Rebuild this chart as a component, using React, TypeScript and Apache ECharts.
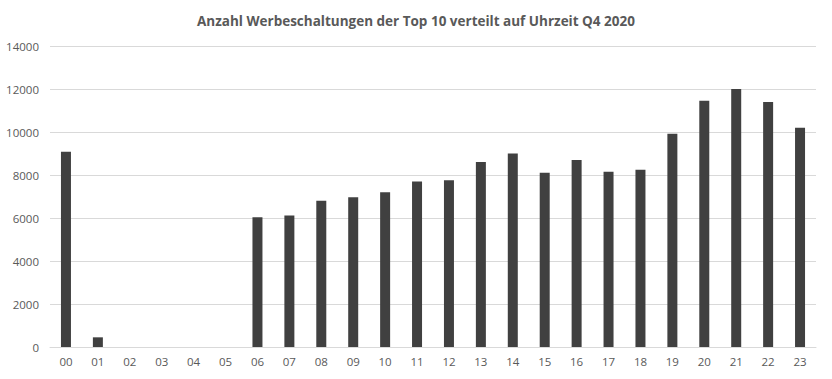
import React, { useEffect, useRef } from "react";
import * as echarts from "echarts";

const hours = ["00","01","02","03","04","05","06","07","08","09","10","11","12","13","14","15","16","17","18","19","20","21","22","23"];
const counts = [9080, 450, 0, 0, 0, 0, 6040, 6120, 6800, 6960, 7200, 7700, 7760, 8600, 9000, 8100, 8700, 8150, 8250, 9920, 11450, 12000, 11400, 10200];
const titleText = "Anzahl Werbeschaltungen der Top 10 verteilt auf Uhrzeit Q4 2020";

export default function App() {
  const ref = useRef<HTMLDivElement>(null);
  useEffect(() => {
    const chart = echarts.init(ref.current!, null, { renderer: "svg" });
    chart.setOption({
      animation: false,
      title: {
        text: titleText,
        left: "center",
        top: 9,
        textStyle: { fontFamily: "Open Sans", fontSize: 13.5, fontWeight: "bold", color: "#595959" },
      },
      grid: { left: 50, right: 16, top: 46, bottom: 32 },
      xAxis: {
        type: "category",
        data: hours,
        axisLine: { lineStyle: { color: "#d9d9d9" } },
        axisTick: { show: false },
        axisLabel: { color: "#595959", fontFamily: "Open Sans", fontSize: 11.5, margin: 8 },
      },
      yAxis: {
        type: "value",
        min: 0,
        max: 14000,
        interval: 2000,
        axisLine: { show: false },
        axisTick: { show: false },
        axisLabel: { color: "#595959", fontFamily: "Open Sans", fontSize: 11.5, margin: 11, formatter: (v: number) => String(v) },
        splitLine: { lineStyle: { color: "#d9d9d9" } },
      },
      series: [
        {
          type: "bar",
          data: counts,
          barWidth: 10,
          itemStyle: { color: "#404040" },
        },
      ],
    });
    return () => chart.dispose();
  }, []);
  return <div ref={ref} style={{ position: "absolute", left: 0, top: 0, width: 832, height: 379 }} />;
}
